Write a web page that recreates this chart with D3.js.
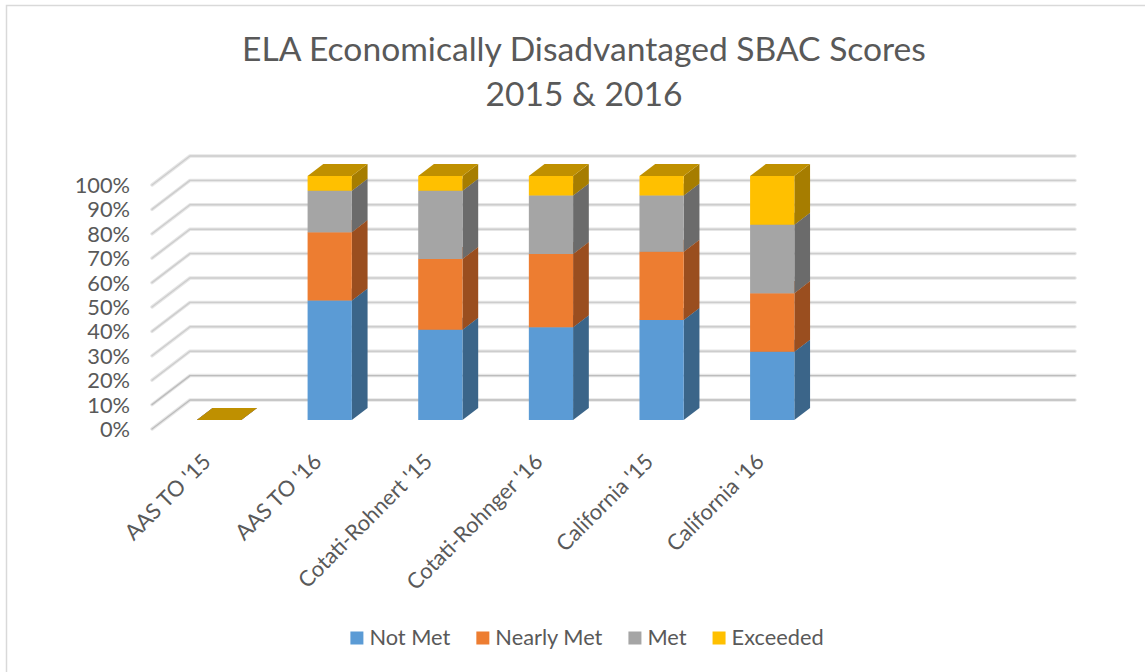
<!DOCTYPE html>
<html><head><meta charset="utf-8">
<script src="https://cdn.jsdelivr.net/npm/d3@7"></script>
<style>html,body{margin:0;padding:0;background:#fff;}svg{display:block;}</style>
</head><body>
<svg id="chart" width="1145" height="672"></svg>
<script>
// ---------- data ----------
const titleLines = ["ELA Economically Disadvantaged SBAC Scores", "2015 & 2016"];
const categories = ["AAS TO '15", "AAS TO '16", "Cotati-Rohnert '15", "Cotati-Rohnger '16", "California '15", "California '16"];
const seriesNames = ["Not Met", "Nearly Met", "Met", "Exceeded"];
const notMet    = [0, 49, 37, 38, 41, 28];
const nearlyMet = [0, 28, 29, 30, 28, 24];
const met       = [0, 17, 28, 24, 23, 28];
const exceeded  = [0,  6,  6,  8,  8, 20];
const yTicks = [0, 10, 20, 30, 40, 50, 60, 70, 80, 90, 100];
const emptySlots = 2; // blank category slots at the right of the floor

// ---------- style ----------
const frontColors = ["#5B9BD5", "#ED7D31", "#A5A5A5", "#FFC000"];
const sideColors  = ["#3B6589", "#9A4E1F", "#6B6B6B", "#A67D00"];
const topColors   = ["#4A7FB0", "#C0652A", "#8A8A8A", "#BF9000"];
const textColor = "#595959";
const FONT = "Lato, 'Open Sans', sans-serif";

const svg = d3.select("#chart");
const W = 1145, H = 672;

// chart area border (extends past right/bottom edges)
svg.append("rect").attr("x", 6.5).attr("y", 5.5).attr("width", 1300).attr("height", 900)
  .attr("fill", "#fff").attr("stroke", "#D9D9D9").attr("stroke-width", 1.5);

// font fitting helper (substitute for Calibri metrics)
function fitSize(text, target, base) {
  const t = svg.append("text").attr("font-family", FONT).attr("font-size", base).text(text);
  const w = t.node().getComputedTextLength();
  t.remove();
  return base * target / w;
}
const titleSize = fitSize(titleLines[0], 684, 36);
const labelSize = fitSize("Not Met", 81, 22);

// ---------- scales & projection ----------
const slots = d3.range(categories.length + emptySlots);
const x = d3.scaleBand().domain(slots).range([190, 1075]).paddingInner(0.6).paddingOuter(0.3);
const y = d3.scaleLinear().domain([0, 100]).range([400, 156]);
const DX = -38, DY = 29;            // depth vector (back wall -> front edge)
const zBack = 0.276, zFront = 0.69; // bar depth extent
const proj = (xb, v, z) => [xb + DX * z, y(v) + DY * z];
const pts = arr => arr.map(p => p.join(",")).join(" ");

const x0 = x.range()[0], x1 = x.range()[1];

// ---------- gridlines ----------
const grid = svg.append("g");
yTicks.forEach(v => {
  const a = proj(x0, v, 1), b = proj(x0, v, 0), c = [x1, y(v)];
  const dark = v <= 10;
  grid.append("polyline").attr("points", pts([a, b, c]))
    .attr("fill", "none").attr("stroke", "#E6E6E6").attr("stroke-width", 3.5)
    .attr("stroke-linecap", "round").attr("stroke-linejoin", "round");
  grid.append("polyline").attr("points", pts([a, b, c]))
    .attr("fill", "none").attr("stroke", dark ? "#BDBDBD" : "#CDCDCD").attr("stroke-width", 1.4)
    .attr("stroke-linecap", "round").attr("stroke-linejoin", "round");
});

// y labels
svg.append("g").selectAll("text").data(yTicks).join("text")
  .attr("x", d => proj(x0, d, 1)[0] - 22)
  .attr("y", d => proj(x0, d, 1)[1] + 8)
  .attr("text-anchor", "end").attr("font-family", FONT).attr("font-size", labelSize)
  .attr("fill", textColor).text(d => d + "%");

// ---------- bars ----------
const rows = categories.map((c, i) => ({ i, "Not Met": notMet[i], "Nearly Met": nearlyMet[i], "Met": met[i], "Exceeded": exceeded[i] }));
const stacked = d3.stack().keys(seriesNames)(rows);
const bw = x.bandwidth();
const barsG = svg.append("g");
rows.forEach((r, ci) => {
  const xl = x(r.i), xr = xl + bw;
  stacked.forEach((s, si) => {
    const [v0, v1] = s[ci];
    const g = barsG.append("g");
    g.append("polygon").attr("points", pts([proj(xr, v0, zFront), proj(xr, v0, zBack), proj(xr, v1, zBack), proj(xr, v1, zFront)]))
      .attr("fill", sideColors[si]);
    g.append("polygon").attr("points", pts([proj(xl, v0, zFront), proj(xr, v0, zFront), proj(xr, v1, zFront), proj(xl, v1, zFront)]))
      .attr("fill", frontColors[si]);
    g.append("polygon").attr("points", pts([proj(xl, v1, zFront), proj(xr, v1, zFront), proj(xr, v1, zBack), proj(xl, v1, zBack)]))
      .attr("fill", topColors[si]);
  });
});

// ---------- x labels ----------
svg.append("g").selectAll("text").data(categories).join("text")
  .attr("transform", (d, i) => {
    const p = proj(x(i) + bw / 2, 0, 1);
    return `translate(${p[0] + 5},${p[1] + 34}) rotate(-45)`;
  })
  .attr("text-anchor", "end").attr("font-family", FONT).attr("font-size", labelSize)
  .attr("fill", textColor).text(d => d);

// ---------- title ----------
svg.append("g").selectAll("text").data(titleLines).join("text")
  .attr("x", 584).attr("y", (d, i) => 61 + i * 45)
  .attr("text-anchor", "middle").attr("font-family", FONT).attr("font-size", titleSize)
  .attr("fill", textColor).text(d => d);

// ---------- legend ----------
const legend = svg.append("g");
let cx = 0;
const items = seriesNames.map((n, i) => {
  const g = legend.append("g");
  g.append("rect").attr("x", 0).attr("y", -13.5).attr("width", 13).attr("height", 13).attr("fill", frontColors[i]);
  const t = g.append("text").attr("x", 19).attr("y", 0).attr("font-family", FONT).attr("font-size", labelSize)
    .attr("fill", textColor).text(n);
  const w = 19 + t.node().getComputedTextLength();
  g.attr("transform", `translate(${cx},0)`);
  cx += w + 26;
  return g;
});
const totalW = cx - 26;
legend.attr("transform", `translate(${587 - totalW / 2},645)`);
</script>
</body></html>
